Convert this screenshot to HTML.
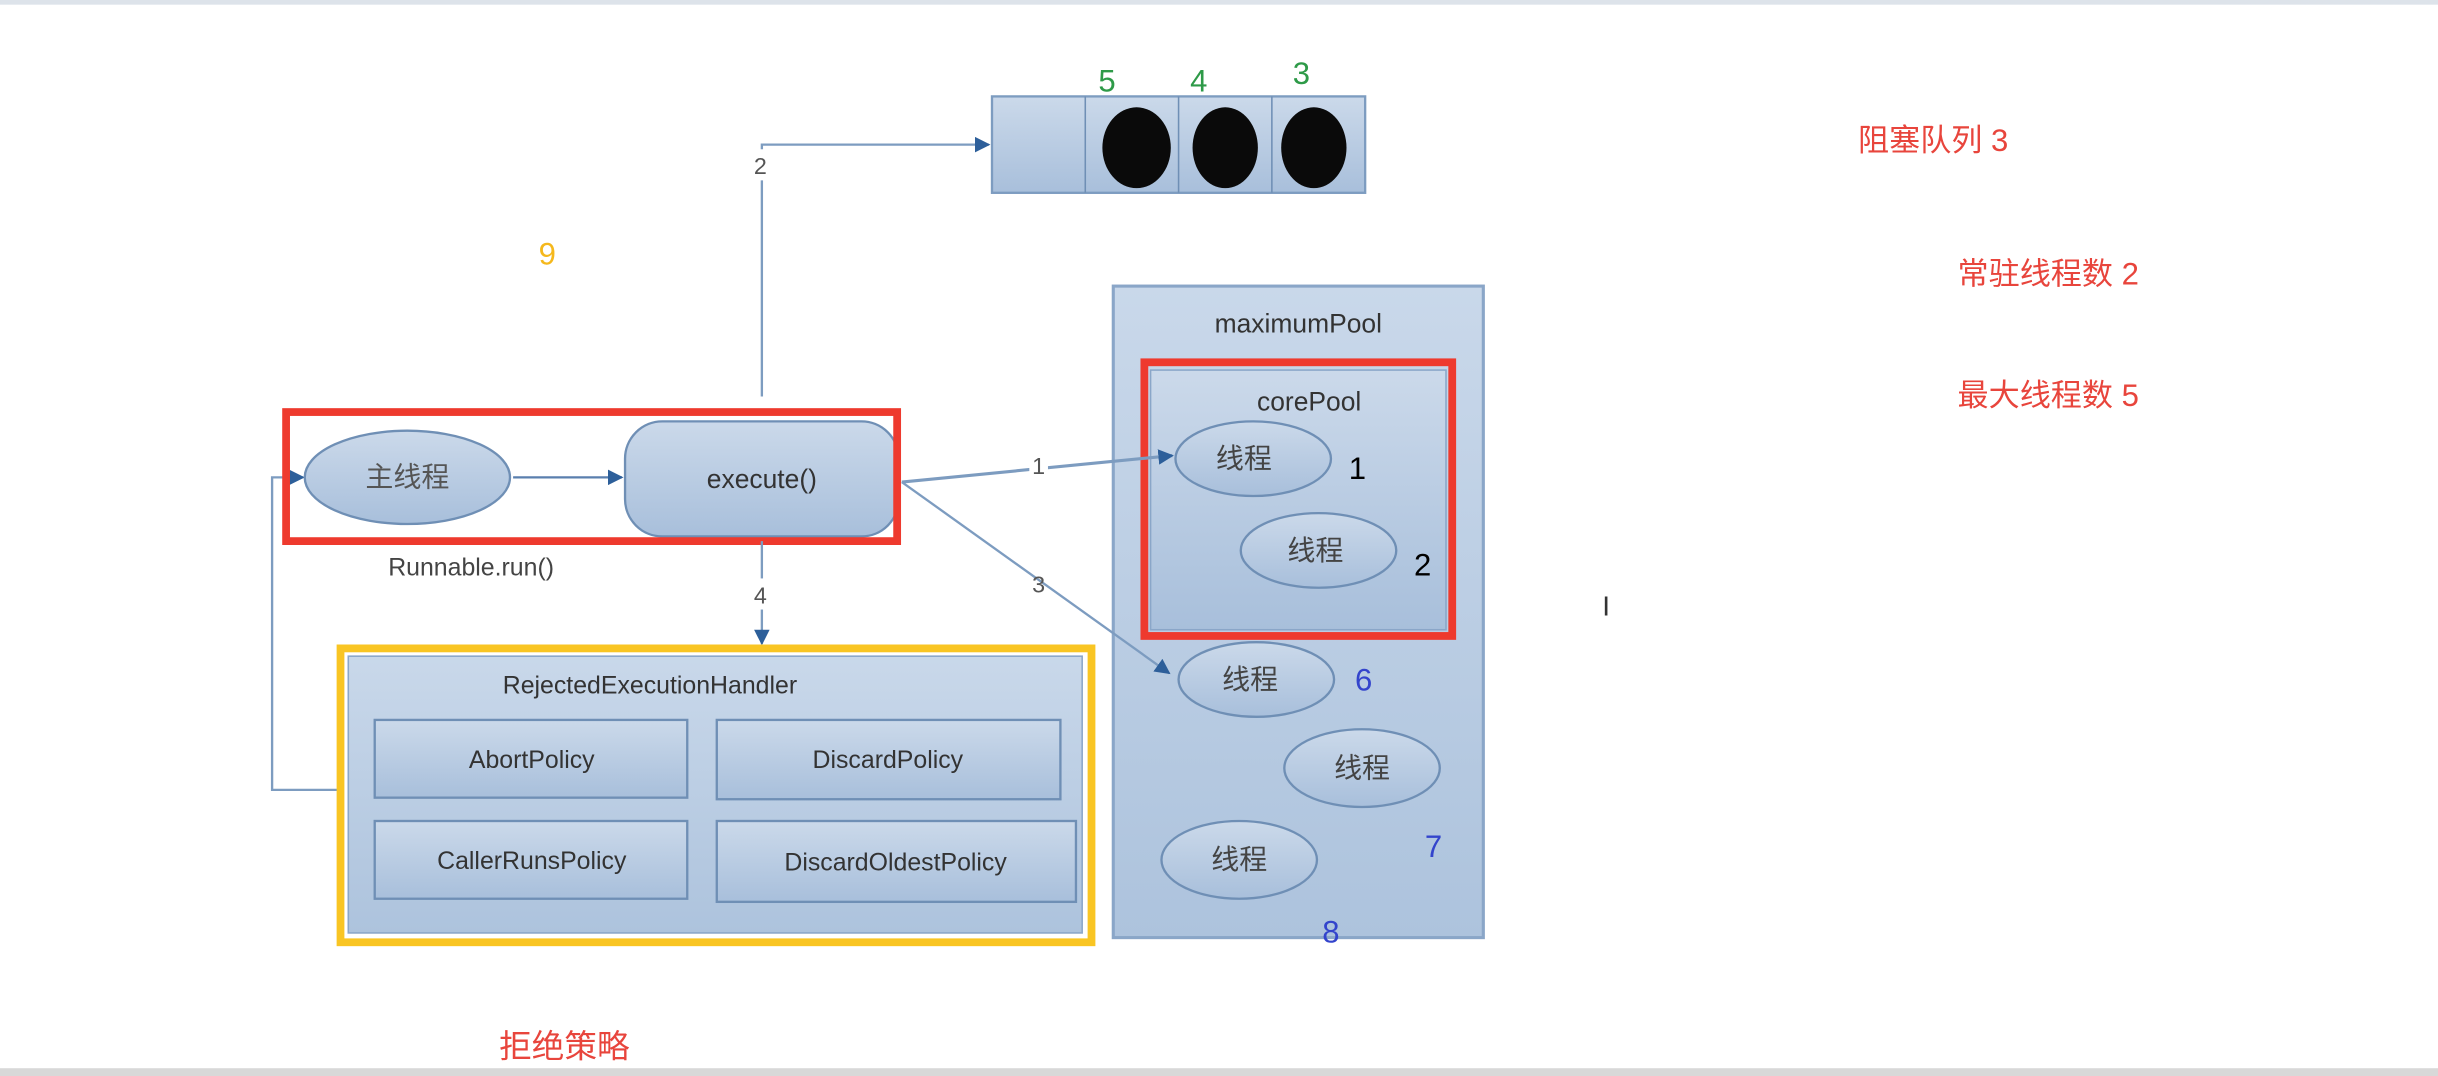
<!DOCTYPE html>
<html><head><meta charset="utf-8"><style>
html,body{margin:0;padding:0;background:#fff;width:2438px;height:1076px;overflow:hidden}
svg{display:block}
text{font-family:"Liberation Sans","Noto Sans CJK SC",sans-serif}
</style></head><body>
<svg width="2438" height="1076" viewBox="0 0 1568 692" preserveAspectRatio="none" xmlns="http://www.w3.org/2000/svg">
<defs>
<linearGradient id="g" x1="0" y1="0" x2="0" y2="1"><stop offset="0" stop-color="#cbd9ea"/><stop offset="1" stop-color="#a8bfdb"/></linearGradient>
<linearGradient id="gb" x1="0" y1="0" x2="0" y2="1"><stop offset="0" stop-color="#c9d8ea"/><stop offset="1" stop-color="#adc3dd"/></linearGradient>
<marker id="a" markerWidth="10" markerHeight="10" refX="9" refY="5" orient="auto" markerUnits="userSpaceOnUse"><path d="M0,0 L10,5 L0,10 z" fill="#2d5f9a"/></marker>
</defs>
<rect x="0" y="0" width="1568" height="3" fill="#dde3ea"/>
<rect x="0" y="687" width="1568" height="5" fill="#d8d8d8"/>

<!-- queue -->
<rect x="638" y="62" width="240" height="62" fill="url(#g)" stroke="#7d9cc0" stroke-width="1.5"/>
<line x1="698" y1="62" x2="698" y2="124" stroke="#6f8fb5"/>
<line x1="758" y1="62" x2="758" y2="124" stroke="#6f8fb5"/>
<line x1="818" y1="62" x2="818" y2="124" stroke="#6f8fb5"/>
<ellipse cx="731" cy="95" rx="22" ry="26" fill="#0a0a0a"/>
<ellipse cx="788" cy="95" rx="21" ry="26" fill="#0a0a0a"/>
<ellipse cx="845" cy="95" rx="21" ry="26" fill="#0a0a0a"/>
<text x="712" y="59" font-size="20" fill="#2e9a48" text-anchor="middle">5</text>
<text x="771" y="59" font-size="20" fill="#2e9a48" text-anchor="middle">4</text>
<text x="837" y="54" font-size="20" fill="#2e9a48" text-anchor="middle">3</text>

<!-- arrow 2 -->
<polyline points="490,255 490,93 636,93" fill="none" stroke="#7d9cc0" stroke-width="1.5" marker-end="url(#a)"/>
<rect x="482" y="96" width="16" height="20" fill="#fff"/>
<text x="489" y="112" font-size="15" fill="#555" text-anchor="middle">2</text>

<text x="352" y="170" font-size="20" fill="#f5b81c" text-anchor="middle">9</text>

<!-- maximumPool -->
<rect x="716" y="184" width="238" height="419" fill="url(#gb)" stroke="#8aa6c8" stroke-width="2"/>
<text x="835" y="214" font-size="17" fill="#333" text-anchor="middle">maximumPool</text>
<rect x="740" y="238" width="190" height="167" fill="url(#g)" stroke="#8aa6c8"/>
<rect x="736" y="233" width="198" height="176" fill="none" stroke="#ee3a2e" stroke-width="5"/>
<text x="842" y="264" font-size="17" fill="#333" text-anchor="middle">corePool</text>

<g fill="url(#g)" stroke="#6f8fb5" stroke-width="1.5">
<ellipse cx="806" cy="295" rx="50" ry="24"/>
<ellipse cx="848" cy="354" rx="50" ry="24"/>
<ellipse cx="808" cy="437" rx="50" ry="24"/>
<ellipse cx="876" cy="494" rx="50" ry="25"/>
<ellipse cx="797" cy="553" rx="50" ry="25"/>
</g>
<g font-size="18" fill="#444" text-anchor="middle">
<text x="800" y="301">线程</text>
<text x="846" y="360">线程</text>
<text x="804" y="443">线程</text>
<text x="876" y="500">线程</text>
<text x="797" y="559">线程</text>
</g>
<text x="873" y="308" font-size="20" fill="#000" text-anchor="middle">1</text>
<text x="915" y="370" font-size="20" fill="#000" text-anchor="middle">2</text>
<text x="877" y="444" font-size="20" fill="#3344cc" text-anchor="middle">6</text>
<text x="922" y="551" font-size="20" fill="#3344cc" text-anchor="middle">7</text>
<text x="856" y="606" font-size="20" fill="#3344cc" text-anchor="middle">8</text>

<!-- loop back -->
<polyline points="218,508 175,508 175,307 195,307" fill="none" stroke="#7d9cc0" stroke-width="1.5" marker-end="url(#a)"/>

<!-- main -->
<ellipse cx="262" cy="307" rx="66" ry="30" fill="url(#g)" stroke="#6f8fb5" stroke-width="1.5"/>
<text x="262" y="313" font-size="18" fill="#555" text-anchor="middle">主线程</text>
<line x1="330" y1="307" x2="400" y2="307" stroke="#5a7fae" stroke-width="1.5" marker-end="url(#a)"/>
<rect x="402" y="271" width="176" height="74" rx="24" fill="url(#g)" stroke="#6f8fb5" stroke-width="1.5"/>
<text x="490" y="314" font-size="17" fill="#333" text-anchor="middle">execute()</text>
<rect x="184" y="265" width="393" height="83" fill="none" stroke="#ee3a2e" stroke-width="5"/>
<text x="303" y="370" font-size="16" fill="#444" text-anchor="middle">Runnable.run()</text>

<!-- arrows 1,3,4 -->
<line x1="580" y1="310" x2="754" y2="293" stroke="#7d9cc0" stroke-width="2" marker-end="url(#a)"/>
<rect x="662" y="290" width="12" height="18" fill="#fff"/>
<text x="668" y="305" font-size="15" fill="#555" text-anchor="middle">1</text>
<line x1="580" y1="310" x2="752" y2="433" stroke="#7d9cc0" stroke-width="1.5" marker-end="url(#a)"/>
<text x="668" y="381" font-size="15" fill="#555" text-anchor="middle">3</text>
<line x1="490" y1="348" x2="490" y2="414" stroke="#7d9cc0" stroke-width="1.5" marker-end="url(#a)"/>
<rect x="482" y="372" width="16" height="20" fill="#fff"/>
<text x="489" y="388" font-size="15" fill="#555" text-anchor="middle">4</text>

<!-- rejected handler -->
<rect x="224" y="422" width="472" height="178" fill="url(#gb)" stroke="#8aa6c8"/>
<rect x="219" y="417" width="483" height="189" fill="none" stroke="#f9c523" stroke-width="5"/>
<text x="418" y="446" font-size="16" fill="#333" text-anchor="middle">RejectedExecutionHandler</text>
<g fill="url(#g)" stroke="#6f8fb5" stroke-width="1.5">
<rect x="241" y="463" width="201" height="50"/>
<rect x="461" y="463" width="221" height="51"/>
<rect x="241" y="528" width="201" height="50"/>
<rect x="461" y="528" width="231" height="52"/>
</g>
<g font-size="16" fill="#333" text-anchor="middle">
<text x="342" y="494">AbortPolicy</text>
<text x="571" y="494">DiscardPolicy</text>
<text x="342" y="559">CallerRunsPolicy</text>
<text x="576" y="560">DiscardOldestPolicy</text>
</g>

<text x="363" y="680" font-size="21" fill="#e8453c" text-anchor="middle">拒绝策略</text>
<text x="1195" y="97" font-size="20" fill="#e8453c">阻塞队列  3</text>
<text x="1259" y="183" font-size="20" fill="#e8453c">常驻线程数  2</text>
<text x="1259" y="261" font-size="20" fill="#e8453c">最大线程数 5</text>
<text x="1033" y="396" font-size="18" fill="#333" text-anchor="middle">I</text>
</svg>
</body></html>
